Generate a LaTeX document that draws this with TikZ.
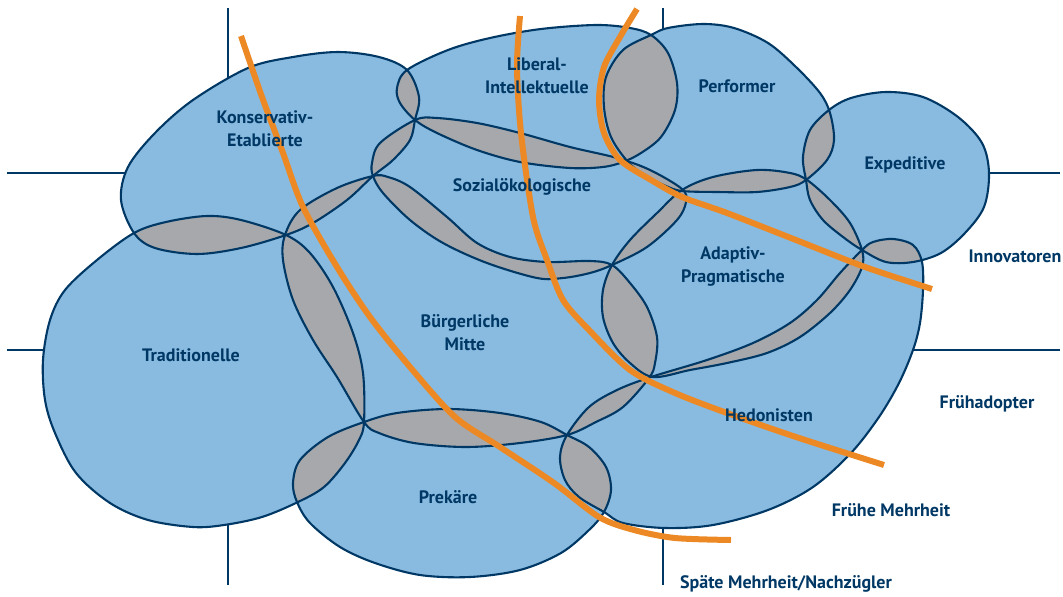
\documentclass[tikz,border=0pt]{standalone}
\usepackage{fontspec}
\setmainfont{PT Sans}
\definecolor{milieublue}{RGB}{137,187,224}
\definecolor{lensgray}{RGB}{166,168,172}
\definecolor{darkblue}{RGB}{0,56,101}
\definecolor{trendorange}{RGB}{236,137,36}
\usetikzlibrary{positioning}

\begin{document}
\begin{tikzpicture}[
    x=1pt, y=-1pt,
    blob/.style={fill=milieublue},
    lens/.style={fill=lensgray},
    rim/.style={draw=darkblue, line width=2.1pt},
    crossline/.style={draw=darkblue, line width=2pt},
    trend/.style={draw=trendorange, line width=6pt},
    milieu/.style={text=darkblue, font=\bfseries\fontsize{18}{23}\selectfont, align=center, inner sep=0pt},
    segment/.style={milieu},
    area KE/.style={insert path={plot[smooth cycle, tension=.55] coordinates {
      (338,52) (379,57) (407,70) (419,97) (415,120) (410,140) (393,160) (373,176)
      (347,200) (313,223) (286,235) (241,248) (197,254) (155,248) (134,233) (121,200)
      (128,167) (155,133) (193,100) (248,68) (293,57)}}},
    area LI/.style={insert path={plot[smooth cycle, tension=.55] coordinates {
      (407,70) (448,50) (490,38) (541,29) (596,25) (630,28) (651,35) (668,53)
      (677,83) (675,110) (661,137) (641,153) (623,162) (603,167) (570,168) (520,162)
      (477,150) (437,133) (415,120) (400,103) (397,88)}}},
    area SO/.style={insert path={plot[smooth cycle, tension=.55] coordinates {
      (415,120) (437,118) (477,123) (520,133) (570,147) (617,158) (650,170) (682,189)
      (686,202) (677,220) (647,247) (612,265) (590,273) (563,278) (537,278) (487,263)
      (443,243) (410,220) (383,193) (373,176) (372,163) (380,143)}}},
    area PE/.style={insert path={plot[smooth cycle, tension=.55] coordinates {
      (651,35) (668,28) (703,24) (734,28) (768,43) (796,67) (820,93) (830,113)
      (834,140) (827,160) (806,180) (790,187) (757,192) (717,192) (682,191) (666,186)
      (646,176) (628,162) (611,137) (604,107) (606,77) (623,50)}}},
    area EX/.style={insert path={plot[smooth cycle, tension=.55] coordinates {
      (806,180) (803,157) (810,130) (829,110) (851,98) (886,92) (923,97) (958,117)
      (982,143) (989,173) (984,207) (965,233) (941,253) (913,262) (886,262) (862,250)
      (843,237) (823,220) (810,200)}}},
    area AP/.style={insert path={plot[smooth cycle, tension=.55] coordinates {
      (682,190) (713,177) (757,170) (790,173) (807,180) (830,200) (850,223) (862,250)
      (862,267) (850,290) (830,313) (800,337) (767,353) (727,363) (690,370) (653,377)
      (630,363) (613,343) (603,317) (603,290) (612,265) (630,240) (657,213)}}},
    area BM/.style={insert path={plot[smooth cycle, tension=.55] coordinates {
      (373,176) (388,177) (410,187) (447,217) (477,243) (510,257) (547,262) (590,261)
      (612,265) (630,283) (647,307) (657,337) (655,363) (649,378) (623,407) (596,422)
      (567,435) (520,443) (466,447) (414,443) (379,433) (364,422) (337,377) (313,340)
      (293,300) (283,260) (285,235) (300,210) (337,188)}}},
    area TR/.style={insert path={plot[smooth cycle, tension=.55] coordinates {
      (134,233) (166,222) (207,216) (241,220) (286,235) (310,253) (333,287) (353,333)
      (363,373) (364,422) (359,440) (345,463) (324,487) (298,502) (262,517) (224,525)
      (193,527) (148,520) (110,503) (76,473) (55,433) (45,400) (43,360) (50,320)
      (65,290) (97,260)}}},
    area PR/.style={insert path={plot[smooth cycle, tension=.55] coordinates {
      (364,422) (397,413) (448,409) (500,413) (541,422) (567,435) (589,447) (606,467)
      (611,490) (604,512) (589,530) (561,553) (520,570) (470,577) (420,575) (375,563)
      (340,547) (310,523) (297,502) (293,483) (300,460) (328,437)}}},
    area HE/.style={insert path={plot[smooth cycle, tension=.55] coordinates {
      (862,250) (873,242) (893,239) (913,245) (922,262) (923,290) (920,323) (913,350)
      (899,383) (879,417) (851,453) (813,487) (768,510) (713,525) (665,528) (623,523)
      (604,512) (579,497) (565,480) (560,457) (567,435) (589,407) (617,390) (651,377)
      (707,360) (753,343) (790,323) (817,300) (840,273)}}},
  ]
  \useasboundingbox (0,0) rectangle (1063,597);

  % axes of the map
  \draw[crossline] (228,8) -- (228,585);
  \draw[crossline] (663,8) -- (663,585);
  \draw[crossline] (7,173) -- (1060,173);
  \draw[crossline] (7,350) -- (1060,350);

  % milieus
  \foreach \m in {KE,LI,SO,PE,EX,AP,BM,TR,PR,HE}
    \fill[blob, area \m];

  % overlaps
  \foreach \a/\b in {KE/LI,KE/SO,KE/BM,KE/TR,LI/PE,LI/SO,SO/PE,SO/AP,SO/BM,PE/AP,
                     PE/EX,EX/AP,EX/HE,AP/HE,AP/BM,BM/HE,BM/PR,BM/TR,TR/PR,PR/HE}
  {
    \begin{scope}
      \clip[area \a];
      \fill[lens, area \b];
    \end{scope}
  }

  \foreach \m in {KE,LI,SO,PE,EX,AP,BM,TR,PR,HE}
    \draw[rim, area \m];

  % adoption borders
  \draw[trend] plot[smooth] coordinates {(241,36) (262,97) (283,153) (303,207) (337,267)
    (370,317) (410,367) (455,417) (500,447) (554,483) (599,517) (634,530) (675,538) (731,540)};
  \draw[trend] plot[smooth] coordinates {(520,16) (517,67) (521,133) (533,217) (547,260)
    (563,300) (589,330) (630,370) (675,393) (727,413) (796,437) (884,465)};
  \draw[trend] plot[smooth] coordinates {(637,9) (620,37) (604,67) (599,100) (604,133)
    (620,160) (651,180) (682,197) (727,213) (796,240) (865,267) (932,289)};

  % labels
  \node[milieu] (ke) at (265,129) {Konservativ-\\Etablierte};
  \node[milieu] (li) at (537,76) {Liberal-\\Intellektuelle};
  \node[milieu] (pe) at (737,86) {Performer};
  \node[milieu] (ex) at (905,165) {Expeditive};
  \node[milieu] (so) at (522,187) {Sozialökologische};
  \node[milieu] (ap) at (733,267) {Adaptiv-\\Pragmatische};
  \node[milieu] (tr) at (191,355) {Traditionelle};
  \node[milieu] (bm) at (465,333) {Bürgerliche\\Mitte};
  \node[milieu] (he) at (769,415) {Hedonisten};
  \node[milieu] (pr) at (448,497) {Prekäre};

  \node[segment] (inno) at (1015,256) {Innovatoren};
  \node[segment] (frueh) at (987,404) {Frühadopter};
  \node[segment] (mehr) at (891,510) {Frühe Mehrheit};
  \node[segment] (spaet) at (786,584) {Späte Mehrheit/Nachzügler};
\end{tikzpicture}
\end{document}
